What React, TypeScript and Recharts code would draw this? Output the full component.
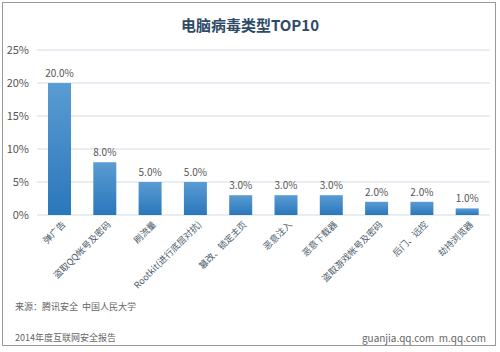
import React from "react";
import { BarChart, Bar, XAxis, YAxis, CartesianGrid, LabelList } from "recharts";

const categories = [
  "弹广告",
  "盗取QQ帐号及密码",
  "刷流量",
  "Rootkit(进行底层对抗)",
  "篡改、锁定主页",
  "恶意注入",
  "恶意下载器",
  "盗取游戏帐号及密码",
  "后门、远控",
  "劫持浏览器",
];
const shares = [20, 8, 5, 5, 3, 3, 3, 2, 2, 1];
const yTicks = [0, 5, 10, 15, 20, 25];

const data = categories.map((name, i) => ({ name, value: shares[i] }));

const FONT = '"Noto Sans CJK SC", "Noto Sans", sans-serif';

const XTick = (props: any) => {
  const { x, y, payload } = props;
  return (
    <g transform={`translate(${x},${y})`}>
      <text
        x={3}
        y={6}
        transform="rotate(-45)"
        textAnchor="end"
        fontSize={9}
        fill="#4a5a6a"
        fontFamily={FONT}
      >
        {payload.value}
      </text>
    </g>
  );
};

export default function App() {
  return (
    <div
      style={{
        position: "absolute",
        left: 0,
        top: 0,
        width: 500,
        height: 352,
        background: "#fff",
        fontFamily: FONT,
        overflow: "hidden",
      }}
    >
      <div
        style={{
          position: "absolute",
          left: 2,
          top: 2,
          width: 494,
          height: 344,
          border: "1px solid #9a9a9a",
          boxSizing: "border-box",
        }}
      />
      <div
        style={{
          position: "absolute",
          left: 0,
          top: 15,
          width: 500,
          textAlign: "center",
          fontSize: 15,
          fontWeight: "bold",
          color: "#2e4a66",
          lineHeight: "20px",
        }}
      >
        电脑病毒类型TOP10
      </div>
      <div style={{ position: "absolute", left: 0, top: 0 }}>
        <BarChart
          width={500}
          height={352}
          data={data}
          margin={{ top: 50, right: 10, bottom: 0, left: 7 }}
        >
          <defs>
            <linearGradient id="barGrad" x1="0" y1="0" x2="0" y2="1">
              <stop offset="0%" stopColor="#5a9cd3" />
              <stop offset="100%" stopColor="#2a77bb" />
            </linearGradient>
          </defs>
          <CartesianGrid vertical={false} stroke="#dfe7ee" strokeWidth={1.5} />
          <XAxis
            dataKey="name"
            interval={0}
            tickLine={false}
            axisLine={false}
            tick={<XTick />}
            height={137}
          />
          <YAxis
            width={30}
            domain={[0, 25]}
            ticks={yTicks}
            tickFormatter={(v: number) => `${v}%`}
            tickLine={false}
            axisLine={false}
            tick={{ fontSize: 11, fill: "#555", fontFamily: FONT }}
          />
          <Bar dataKey="value" fill="url(#barGrad)" barSize={23} isAnimationActive={false}>
            <LabelList
              dataKey="value"
              position="top"
              offset={6}
              formatter={(v: number) => `${v.toFixed(1)}%`}
              style={{ fontSize: 10, fill: "#555", fontFamily: FONT }}
            />
          </Bar>
        </BarChart>
      </div>
      <div
        style={{
          position: "absolute",
          left: 15,
          top: 300,
          fontSize: 9,
          color: "#666",
        }}
      >
        来源：腾讯安全&nbsp;&nbsp;中国人民大学
      </div>
      <div
        style={{
          position: "absolute",
          left: 15,
          top: 331,
          fontSize: 9,
          color: "#666",
        }}
      >
        2014年度互联网安全报告
      </div>
      <div
        style={{
          position: "absolute",
          right: 14,
          top: 330,
          fontSize: 10,
          color: "#666",
        }}
      >
        guanjia.qq.com&nbsp;&nbsp;m.qq.com
      </div>
    </div>
  );
}
